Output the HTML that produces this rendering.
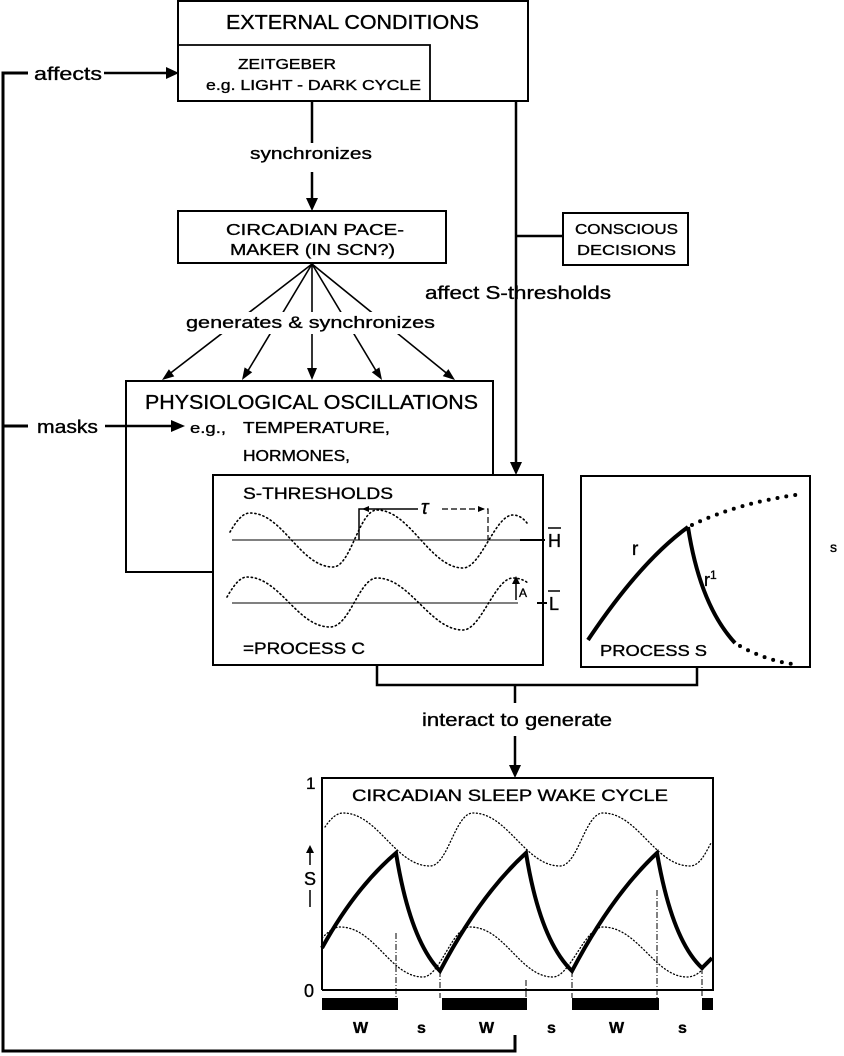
<!DOCTYPE html>
<html><head><meta charset="utf-8"><style>
html,body{margin:0;padding:0;background:#fff;}
svg{display:block;}
text{font-family:"Liberation Sans",Arial,sans-serif;fill:#000;stroke:#000;stroke-width:0.35;}
</style></head><body>
<svg width="844" height="1056" viewBox="0 0 844 1056" xmlns="http://www.w3.org/2000/svg">
<rect width="844" height="1056" fill="#fff"/>
<g fill="none" stroke="#000">
  <!-- left feedback line -->
  <path d="M28,73 H3 V1051 H515 V1035" stroke-width="3"/>
  <path d="M104,73 H168" stroke-width="2.5"/>
  <path d="M28,426 H3" stroke-width="3"/>
  <path d="M105,426 H172" stroke-width="2.5"/>

  <!-- External conditions -->
  <rect x="178" y="1" width="350" height="100" stroke-width="2"/>
  <path d="M178,45 H430 V101" stroke-width="1.8"/>

  <!-- synchronizes connector -->
  <path d="M312,101 V143" stroke-width="2.5"/>
  <path d="M312,172 V200" stroke-width="2.5"/>

  <!-- right vertical -->
  <path d="M516,101 V463" stroke-width="2.5"/>
  <path d="M516,236 H563" stroke-width="2.5"/>

  <!-- pacemaker -->
  <rect x="178" y="211" width="268" height="52" stroke-width="2"/>
  <!-- conscious -->
  <rect x="563" y="213" width="125" height="52" stroke-width="2"/>

  <!-- fan -->
  <g stroke-width="1.6">
    <line x1="312" y1="264" x2="168" y2="375"/>
    <line x1="312" y1="264" x2="246" y2="374"/>
    <line x1="312" y1="264" x2="312" y2="372"/>
    <line x1="312" y1="264" x2="378" y2="374"/>
    <line x1="312" y1="264" x2="450" y2="376"/>
  </g>

  <!-- physiological box -->
  <path d="M213,572 H126 V381 H493 V475" stroke-width="2"/>
</g>

<!-- white band behind fan text -->
<rect x="180" y="312" width="262" height="22" fill="#fff"/>

<!-- arrowheads -->
<g fill="#000">
  <polygon points="166,67 166,79 179,73"/>
  <polygon points="171,420 171,432 185,426"/>
  <polygon points="306,198 318,198 312,211"/>
  <polygon points="510,462 522,462 516,475"/>
  <polygon points="174.3,376.4 168.9,369.2 162,380"/>
  <polygon points="252.2,372.2 244.6,367.4 242,380"/>
  <polygon points="307,368 317,368 312,380"/>
  <polygon points="371.8,372.2 379.4,367.4 382,380"/>
  <polygon points="442.8,376.1 448.4,369.1 455,380"/>
  <polygon points="509,765 521,765 515,778"/>
</g>

<!-- S-threshold box -->
<rect x="213" y="475" width="330" height="190" fill="#fff" stroke="#000" stroke-width="2"/>
<!-- Process S box -->
<rect x="581" y="476" width="229" height="191" fill="#fff" stroke="#000" stroke-width="2"/>

<g fill="none" stroke="#000">
  <!-- H and L lines -->
  <path d="M232,540 H520" stroke-width="1"/>
  <path d="M520,540 H545" stroke-width="2"/>
  <path d="M232,603 H518" stroke-width="1"/>
  <path d="M537,603 H547" stroke-width="2"/>
  <!-- waves -->
  <path d="M230,532 C238,518 244,513 250,513 C283,513 300,567 333,567 C351,567 359,510 377,510 C410,510 430,568 463,568 C481,568 495,515 513,515 C519,515 524,519 527,523" stroke-width="1.6" stroke-dasharray="1.2 3" stroke-linecap="round"/>
  <path d="M227,597 C235,583 241,577 247,577 C280,577 297,627 330,627 C350,627 359,578 377,578 C410,578 430,630 463,630 C481,630 495,578 513,578 C519,578 524,580 528,583" stroke-width="1.6" stroke-dasharray="1.2 3" stroke-linecap="round"/>
  <!-- tau bracket -->
  <path d="M359,540 V509 H418" stroke-width="1.5"/>
  <path d="M442,509 H488 V540" stroke-width="1.2" stroke-dasharray="6 3"/>
  <!-- A arrow -->
  <path d="M516,600 V582" stroke-width="1.5"/>

  <!-- Process S curves -->
  <path d="M588,640 Q640,562 688,527" stroke-width="4"/>
  <path d="M688,527 Q700,605 735,643" stroke-width="4"/>
  <path d="M692,525 Q740,502 803,494" stroke-width="4" stroke-dasharray="0 9" stroke-linecap="round"/>
  <path d="M740,646 Q765,660 792,664" stroke-width="4" stroke-dasharray="0 9" stroke-linecap="round"/>

  <!-- bracket -->
  <path d="M377,665 V685 H697 V667" stroke-width="2.5"/>
  <path d="M515,685 V703" stroke-width="2.5"/>
  <path d="M515,736 V767" stroke-width="2.5"/>

  <!-- sleep wake box -->
  <path d="M322,990 V778 H713 V990 H322" stroke-width="2"/>
  <path d="M325,827 C331,818 337,813 343,813 C378,813 395,866 430,866 C448,866 455,813 473,813 C508,813 525,866 560,866 C578,866 585,813 603,813 C638,813 655,866 690,866 C700,866 706,852 711,843" stroke-width="1.3" stroke-dasharray="1 2.5" stroke-linecap="round"/>
  <path d="M322,938 C330,930 335,927 340,927 C375,927 390,977 423,977 C440,977 452,927 470,927 C505,927 520,977 553,977 C570,977 585,927 603,927 C638,927 655,977 687,977 C695,977 700,972 704,968" stroke-width="1.3" stroke-dasharray="1 2.5" stroke-linecap="round"/>
  <path d="M322,948 Q355,888 396,853 Q410,940 440,971 Q480,895 526,853 Q540,940 572,971 Q612,895 657,853 Q672,940 702,968 L712,958" stroke-width="4" stroke-linejoin="miter"/>
  <g stroke-width="1" stroke-dasharray="6 2 1 2">
    <path d="M396,933 V998"/>
    <path d="M440,971 V998"/>
    <path d="M526,980 V998"/>
    <path d="M572,971 V998"/>
    <path d="M657,890 V998"/>
    <path d="M702,968 V998"/>
  </g>
  <!-- S axis -->
  <path d="M310,865 V850" stroke-width="1.5"/>
  <path d="M310,890 V907" stroke-width="1.5"/>
</g>

<g fill="#000">
  <!-- tau arrowheads -->
  <polygon points="369,506 369,512 362,509"/>
  <polygon points="478,506 478,512 485,509"/>
  <!-- A arrowhead -->
  <polygon points="512,584 520,584 516,576"/>
  <!-- S axis arrow -->
  <polygon points="306,853 314,853 310,845"/>
  <!-- bars -->
  <rect x="322" y="998" width="76" height="12"/>
  <rect x="442" y="998" width="85" height="12"/>
  <rect x="572" y="998" width="87" height="12"/>
  <rect x="702" y="998" width="11" height="12"/>
</g>

<!-- texts -->
<text x="226" y="29" font-size="20" textLength="253" lengthAdjust="spacingAndGlyphs">EXTERNAL  CONDITIONS</text>
<text x="238" y="69" font-size="15" textLength="98" lengthAdjust="spacingAndGlyphs">ZEITGEBER</text>
<text x="206" y="90" font-size="15" textLength="215" lengthAdjust="spacingAndGlyphs">e.g. LIGHT - DARK CYCLE</text>
<text x="34" y="80" font-size="18" textLength="68" lengthAdjust="spacingAndGlyphs">affects</text>
<text x="250" y="159" font-size="17" textLength="122" lengthAdjust="spacingAndGlyphs">synchronizes</text>
<text x="226" y="235" font-size="16" textLength="178" lengthAdjust="spacingAndGlyphs">CIRCADIAN  PACE-</text>
<text x="230" y="255" font-size="16" textLength="165" lengthAdjust="spacingAndGlyphs">MAKER (IN SCN?)</text>
<text x="575" y="234" font-size="15" textLength="103" lengthAdjust="spacingAndGlyphs">CONSCIOUS</text>
<text x="577" y="255" font-size="15" textLength="99" lengthAdjust="spacingAndGlyphs">DECISIONS</text>
<text x="425" y="299" font-size="18" textLength="186" lengthAdjust="spacingAndGlyphs">affect S-thresholds</text>
<text x="186" y="328" font-size="17" textLength="249" lengthAdjust="spacingAndGlyphs">generates &amp; synchronizes</text>
<text x="145" y="409" font-size="20" textLength="333" lengthAdjust="spacingAndGlyphs">PHYSIOLOGICAL  OSCILLATIONS</text>
<text x="190" y="433" font-size="15" textLength="36" lengthAdjust="spacingAndGlyphs">e.g.,</text>
<text x="243" y="433" font-size="16" textLength="147" lengthAdjust="spacingAndGlyphs">TEMPERATURE,</text>
<text x="243" y="461" font-size="16" textLength="107" lengthAdjust="spacingAndGlyphs">HORMONES,</text>
<text x="37" y="433" font-size="18" textLength="61" lengthAdjust="spacingAndGlyphs">masks</text>
<text x="243" y="499" font-size="17" textLength="150" lengthAdjust="spacingAndGlyphs">S-THRESHOLDS</text>
<text x="421" y="514" font-size="20" font-family="Liberation Serif, serif" font-style="italic">τ</text>
<text x="548" y="547" font-size="18">H</text>
<path d="M548,528 H561" stroke="#000" stroke-width="1.5"/>
<text x="549" y="610" font-size="18">L</text>
<path d="M548,591 H560" stroke="#000" stroke-width="1.5"/>
<text x="519" y="597" font-size="12">A</text>
<text x="243" y="654" font-size="17" textLength="122" lengthAdjust="spacingAndGlyphs">=PROCESS C</text>
<text x="632" y="555" font-size="19">r</text>
<text x="704" y="586" font-size="18">r<tspan font-size="12" dy="-7">1</tspan></text>
<text x="600" y="656" font-size="16" textLength="107" lengthAdjust="spacingAndGlyphs">PROCESS S</text>
<text x="830" y="552" font-size="14">s</text>
<text x="422" y="726" font-size="18" textLength="190" lengthAdjust="spacingAndGlyphs">interact to generate</text>
<text x="352" y="801" font-size="17" textLength="316" lengthAdjust="spacingAndGlyphs">CIRCADIAN  SLEEP  WAKE  CYCLE</text>
<text x="306" y="789" font-size="17">1</text>
<text x="304" y="997" font-size="18">0</text>
<text x="304" y="885" font-size="18">S</text>
<g font-size="16" font-weight="bold">
<text x="353" y="1033">W</text>
<text x="417" y="1033">s</text>
<text x="479" y="1033">W</text>
<text x="547" y="1033">s</text>
<text x="609" y="1033">W</text>
<text x="678" y="1033">s</text>
</g>
</svg>
</body></html>
